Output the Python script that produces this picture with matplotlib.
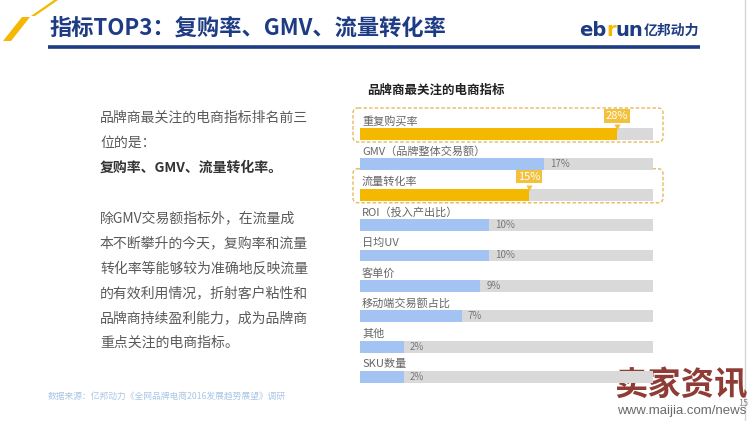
import numpy as np
import matplotlib
matplotlib.use('Agg')
import matplotlib.pyplot as plt
from matplotlib.patches import FancyBboxPatch, Polygon
from matplotlib.transforms import offset_copy

plt.rcParams['font.family'] = ['Noto Sans CJK SC', 'DejaVu Sans']

# data
metrics = ['重复购买率', 'GMV（品牌整体交易额）', '流量转化率', 'ROI（投入产出比）',
           '日均UV', '客单价', '移动端交易额占比', '其他', 'SKU数量']
shares = [28, 17, 15, 10, 10, 9, 7, 2, 2]
highlighted = ['重复购买率', '流量转化率']

title = '指标TOP3：复购率、GMV、流量转化率'
chart_title = '品牌商最关注的电商指标'
intro_lines = ['品牌商最关注的电商指标排名前三', '位的是：']
key_line = '复购率、GMV、流量转化率。'
body_lines = ['除GMV交易额指标外，在流量成', '本不断攀升的今天，复购率和流量',
              '转化率等能够较为准确地反映流量', '的有效利用情况，折射客户粘性和',
              '品牌商持续盈利能力，成为品牌商', '重点关注的电商指标。']
source = '数据来源：亿邦动力《全网品牌电商2016发展趋势展望》调研'

NAVY = '#1e3c84'
YELLOW = '#f5b800'
BLUE = '#a3c4f3'
TRACK = '#d9d9d9'

fig = plt.figure(figsize=(7.5, 4.21), dpi=100)

# background layer in pixel coords
bg = fig.add_axes([0, 0, 1, 1])
bg.set_xlim(0, 750)
bg.set_ylim(421, 0)
bg.axis('off')

bg.add_patch(Polygon([(3, 41), (11, 41), (30, 17), (22, 17)], color=YELLOW, lw=0))
bg.add_patch(Polygon([(31, 16), (35, 16), (58, 0), (54, 0)], color=YELLOW, lw=0))
bg.plot([48, 700], [47, 47], color=NAVY, lw=2.6, solid_capstyle='butt')
bg.plot([745, 745], [0, 421], color='#d6d6d6', lw=1)

bg.text(50, 28, title, fontsize=16, fontweight='bold', color=NAVY, va='center')

# logo
t1 = bg.text(579, 30, 'eb', fontsize=14, fontweight='bold', color=NAVY,
             va='center', family='DejaVu Sans')
t2 = bg.annotate('r', xy=(1, 0), xycoords=t1, va='bottom', fontsize=14,
                 fontweight='bold', color=YELLOW, family='DejaVu Sans')
t3 = bg.annotate('un', xy=(1, 0), xycoords=t2, va='bottom', fontsize=14,
                 fontweight='bold', color=NAVY, family='DejaVu Sans')
bg.annotate('亿邦动力', xy=(1, 0.1), xycoords=t3, va='bottom', fontsize=10,
            fontweight='bold', color=NAVY)

# left text
y = 118
for line in intro_lines:
    bg.text(100, y, line, fontsize=10, color='#5a5a5a', va='center')
    y += 25
bg.text(100, y, key_line, fontsize=10, fontweight='bold', color='#333333', va='center')
y = 218
for line in body_lines:
    bg.text(100, y, line, fontsize=10, color='#5a5a5a', va='center')
    y += 25

bg.text(48, 397, source, fontsize=6.3, color='#a9c6e6', va='center')

bg.text(367, 90, chart_title, fontsize=9, fontweight='bold', color='#222222', va='center')

# highlight boxes around rows
row0, step = 134, 30.375
for name in highlighted:
    i = metrics.index(name)
    yc = row0 + i * step
    bg.add_patch(FancyBboxPatch((353, yc - 26), 310, 34,
                                boxstyle='round,pad=0,rounding_size=5',
                                fc='none', ec='#e2bb5c', lw=1, ls=(0, (2.5, 1.5))))

# watermark
bg.text(738, 403, '15', fontsize=6.5, color='#888888', va='center')
bg.text(614, 386, '卖家资讯', fontsize=24, fontweight='heavy', color='#8f3b36',
        va='center')
bg.text(617, 411, 'www.maijia.com/news', fontsize=9.5, color='#6a6a6a',
        va='center', family='Liberation Sans')

# bar chart
ax = fig.add_axes([360 / 750, (421 - 392.2) / 421, 293 / 750, 273.4 / 421])
ax.patch.set_alpha(0)
power = 0.67
ax.set_xscale('function', functions=(lambda v: np.sign(v) * np.abs(v) ** power,
                                     lambda v: np.sign(v) * np.abs(v) ** (1 / power)))
xmax = 34
ax.set_xlim(0, xmax)
ax.set_ylim(len(metrics) - 0.5, -0.5)
ax.axis('off')

pos = np.arange(len(metrics))
bar_h = 0.39
colors = [YELLOW if m in highlighted else BLUE for m in metrics]
ax.barh(pos, [xmax] * len(metrics), height=bar_h, color=TRACK, zorder=1)
ax.barh(pos, shares, height=bar_h, color=colors, zorder=2)

tip = offset_copy(ax.transData, fig=fig, x=0, y=7, units='dots')
for i, (m, v) in enumerate(zip(metrics, shares)):
    ax.text(0.02, i - 0.42, m, fontsize=8, color='#666666', va='center', ha='left')
    if m in highlighted:
        ax.annotate(f'{v}%', xy=(v, i), xytext=(0, 13), textcoords='offset points',
                    ha='center', va='center', fontsize=8, color='white',
                    bbox=dict(boxstyle='square,pad=0.15', fc='#f4c13c', ec='none'),
                    zorder=4)
        ax.plot(v, i, marker='v', ms=4, color='#f4c13c', mec='none',
                transform=tip, zorder=4, clip_on=False)
    else:
        ax.annotate(f'{v}%', xy=(v, i), xytext=(4.5, 0), textcoords='offset points',
                    ha='left', va='center', fontsize=7, color='#777777', zorder=3)

fig.savefig('out.png', dpi=100)
